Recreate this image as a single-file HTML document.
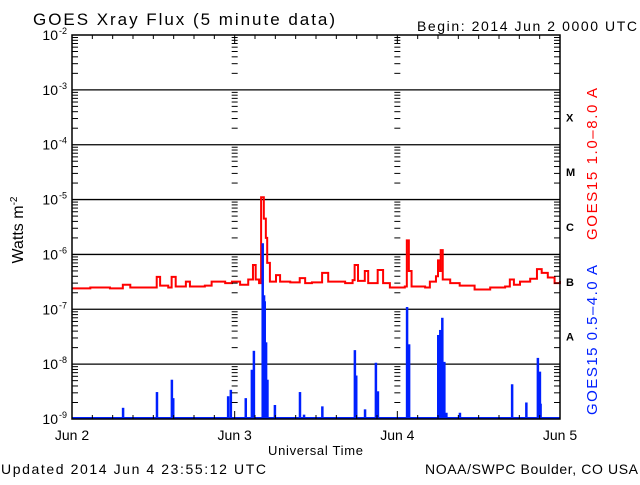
<!DOCTYPE html>
<html><head><meta charset="utf-8"><style>
body{margin:0;background:#fff;}
svg text{font-family:"Liberation Sans",sans-serif;}
</style></head><body>
<svg id="chart" width="640" height="480" viewBox="0 0 640 480" xmlns="http://www.w3.org/2000/svg">
<rect width="640" height="480" fill="#fff"/>
<text x="33" y="25" font-size="17" textLength="302" lengthAdjust="spacing">GOES Xray Flux (5 minute data)</text>
<text x="417" y="31" font-size="14" textLength="220" lengthAdjust="spacing">Begin:  2014 Jun 2 0000 UTC</text>
<text x="1" y="474" font-size="14" textLength="265" lengthAdjust="spacing">Updated 2014 Jun  4 23:55:12 UTC</text>
<text x="425" y="474" font-size="14" textLength="213" lengthAdjust="spacing">NOAA/SWPC Boulder, CO USA</text>
<text x="268" y="455" font-size="13" textLength="95" lengthAdjust="spacing">Universal Time</text>
<text transform="translate(23,230) rotate(-90)" font-size="16" text-anchor="middle">Watts m<tspan dy="-6" font-size="10">-2</tspan></text>
<text transform="translate(597,240) rotate(-90)" font-size="15" fill="#ff0000" textLength="152" lengthAdjust="spacing">GOES15 1.0–8.0 A</text>
<text transform="translate(597,415) rotate(-90)" font-size="15" fill="#0020ff" textLength="150" lengthAdjust="spacing">GOES15 0.5–4.0 A</text>
<g id="grid"></g>
<g id="series"></g>
<g id="axes"></g>
</svg>
<script>
const dayLabels = ["Jun 2","Jun 3","Jun 4","Jun 5"];
const yTickExps = [-2,-3,-4,-5,-6,-7,-8,-9];
const classLabels = ["X","M","C","B","A"];
const classExps = [-3.5,-4.5,-5.5,-6.5,-7.5];
const redHours = [0,2.7,5.6,7.5,8.6,10.8,12.5,13,14.2,14.7,15.3,16.8,17.4,19.6,20.6,22.6,23.6,24.8,26,26.7,27.1,27.6,27.9,28.2,28.3,28.6,28.8,29.2,30.1,30.7,32.2,33.6,34.4,35.4,36.9,37.8,40.3,41.4,41.7,42.2,43.2,43.7,45.1,45.9,46.9,47.9,49.1,49.4,49.7,50.1,52.1,52.8,53.7,54,54.3,54.4,54.7,55.8,57.2,59.4,61.7,63.9,64.6,65.2,66.1,67.6,68.6,69.3,70.2,71.2,72];
const redFlux = [2.4e-7,2.5e-7,2.4e-7,2.8e-7,2.5e-7,2.5e-7,3.9e-7,2.7e-7,2.5e-7,3.9e-7,2.6e-7,3.2e-7,2.6e-7,2.7e-7,3.2e-7,3.0e-7,3.2e-7,2.8e-7,3.5e-7,6.4e-7,3.5e-7,3.0e-7,1.1e-5,1.1e-5,4.5e-6,2.0e-6,7e-7,3.2e-7,4.2e-7,3.2e-7,3.1e-7,3.7e-7,3.0e-7,3.1e-7,4.6e-7,3.2e-7,3.0e-7,3.4e-7,6.4e-7,3.3e-7,5.0e-7,3.0e-7,5.2e-7,3.0e-7,2.5e-7,2.5e-7,2.6e-7,1.8e-6,5.0e-7,2.6e-7,2.5e-7,3.2e-7,4.0e-7,7.8e-7,5.0e-7,1.2e-6,3.5e-7,3.0e-7,2.7e-7,2.3e-7,2.5e-7,2.6e-7,3.5e-7,2.8e-7,3.2e-7,3.6e-7,5.4e-7,4.6e-7,3.8e-7,3.0e-7,3.3e-7];
const blueHours = [7.5,12.5,14.7,14.9,23,23.4,25.6,26.5,26.8,28.1,28.3,28.4,28.6,28.8,29.9,33.6,34.2,36.9,41.7,41.9,43.2,44.8,45.1,49.4,49.7,54,54.3,54.6,54.9,55.2,57.2,64.9,67,68.7,69,69.1];
const blueFlux = [1.6e-9,3.1e-9,5.2e-9,2.4e-9,2.6e-9,3.4e-9,2.4e-9,7.9e-9,1.75e-8,1.6e-6,1.8e-7,1.4e-7,2.5e-8,5.2e-9,1.8e-9,3.1e-9,1.2e-9,1.7e-9,1.8e-8,6.2e-9,1.5e-9,1.06e-8,3.2e-9,1.1e-7,2.3e-8,3.4e-8,4.2e-8,7.0e-8,1.1e-8,1.3e-9,1.3e-9,4.3e-9,2.0e-9,1.3e-8,7.3e-9,1.9e-9];

const X0=72, X1=560, Y0=35, Y1=419;
const xs = h => X0 + h/72*(X1-X0);
const ys = v => Y0 + (-2 - Math.log10(v))/7*(Y1-Y0);
const NS="http://www.w3.org/2000/svg";
function mk(tag, attrs, parent){const e=document.createElementNS(NS,tag);for(const k in attrs)e.setAttribute(k,attrs[k]);parent.appendChild(e);return e;}
const grid=document.getElementById('grid'), axes=document.getElementById('axes'), series=document.getElementById('series');

yTickExps.forEach(ex=>{
  const y=ys(Math.pow(10,ex));
  if(ex>-9 && ex<-2){
    const l=mk('line',{x1:X0,x2:X1,y1:y,y2:y,stroke:'#000','stroke-width':1.3},grid);
    
    
  }
  const t=mk('text',{x:58,y:y+5,'font-size':14,'text-anchor':'end'},axes);
  
  
  t.textContent='10';
  const s=mk('text',{x:59,y:y-1,'font-size':9},axes);
  s.textContent=String(ex);
  
  
});
for(let ex=-3; ex>=-9; ex--){
  for(let m=2;m<=9;m++){
    const v=m*Math.pow(10,ex); if(v>1e-2) continue;
    const y=ys(v);
    mk('line',{x1:X0,x2:X0+6,y1:y,y2:y,stroke:'#000','stroke-width':1},axes);
    mk('line',{x1:X1-6,x2:X1,y1:y,y2:y,stroke:'#000','stroke-width':1},axes);
    [1,2].forEach(d=>{const x=xs(d*24);mk('line',{x1:x-3,x2:x+3,y1:y,y2:y,stroke:'#000','stroke-width':1},axes);});
  }
}
for(let h=0;h<=72;h+=3){
  const x=xs(h), L=(h%24==0)?8:4;
  mk('line',{x1:x,x2:x,y1:Y0,y2:Y0+L,stroke:'#000','stroke-width':1},axes);
  mk('line',{x1:x,x2:x,y1:Y1-L,y2:Y1,stroke:'#000','stroke-width':1},axes);
}
dayLabels.forEach((d,i)=>{
  const t=mk('text',{x:xs(i*24),y:440,'font-size':14,'text-anchor':'middle'},axes);
  t.textContent=d;
  
  
});
classLabels.forEach((c,i)=>{
  const t=mk('text',{x:566,y:ys(Math.pow(10,classExps[i]))+4,'font-size':11,'font-weight':'bold','font-family':'Liberation Serif, serif'},axes);
  t.textContent=c;
  
  
});
const fr=mk('rect',{x:X0,y:Y0,width:X1-X0,height:Y1-Y0,fill:'none',stroke:'#000','stroke-width':1.5},axes);



let pts=[];
redHours.forEach((h,i)=>{const x=xs(h),y=ys(redFlux[i]); if(i>0) pts.push(x+','+ys(redFlux[i-1])); pts.push(x+','+y);});
const red=mk('polyline',{points:pts.join(' '),fill:'none',stroke:'#ff0000','stroke-width':2},series);



const floor=mk('line',{x1:X0,x2:X1,y1:Y1-1,y2:Y1-1,stroke:'#0020ff','stroke-width':2},series);


blueHours.forEach((h,i)=>{
  const r=mk('rect',{x:xs(h)-1,y:ys(blueFlux[i]),width:2.5,height:Y1-ys(blueFlux[i]),fill:'#0020ff'},series);
  
  
});
</script>
</body></html>
